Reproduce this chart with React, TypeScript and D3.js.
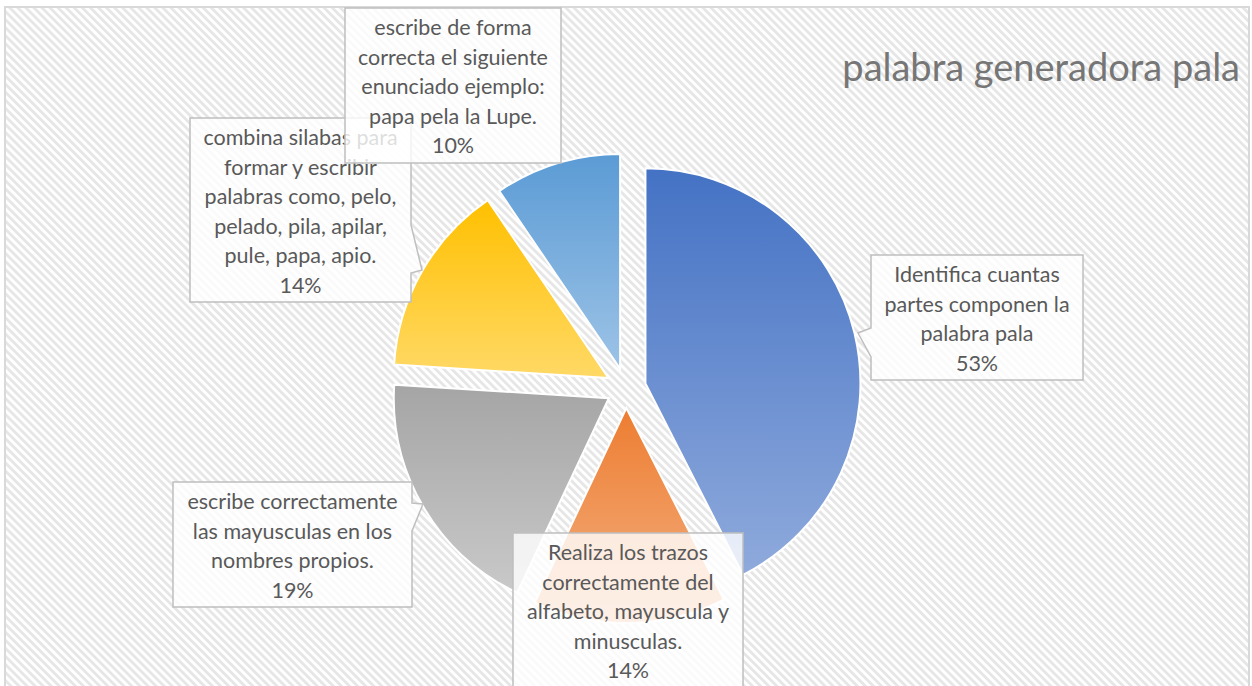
import React from "react";
import * as d3 from "d3";

// pie values; the printed percentages are kept as-is
const categories = [
  "Identifica cuantas partes componen la palabra pala",
  "Realiza los trazos correctamente del alfabeto, mayuscula y minusculas.",
  "escribe correctamente las mayusculas en los nombres propios.",
  "combina silabas para formar y escribir palabras como, pelo, pelado, pila, apilar, pule, papa, apio.",
  "escribe de forma correcta el siguiente enunciado ejemplo: papa pela la Lupe.",
];
const categoryLines = [
  ["Identifica cuantas", "partes componen la", "palabra pala"],
  ["Realiza los trazos", "correctamente del", "alfabeto, mayuscula y", "minusculas."],
  ["escribe correctamente", "las mayusculas en los", "nombres propios."],
  ["combina silabas para", "formar y escribir", "palabras como, pelo,", "pelado, pila, apilar,", "pule, papa, apio."],
  ["escribe de forma", "correcta el siguiente", "enunciado ejemplo:", "papa pela la Lupe."],
];
const values = [42.5, 14.5, 19, 14.5, 9.5];
const percentLabels = ["53%", "14%", "19%", "14%", "10%"];
const topColors = ["#4472C4", "#ED7D31", "#A5A5A5", "#FFC000", "#5B9BD5"];
const bottomColors = ["#8FAADC", "#F4B183", "#C9C9C9", "#FFD966", "#9DC3E6"];
const title = "palabra generadora pala";

// callout boxes were dragged by hand in the original, so they sit where they sit
const callouts = [
  { x: 871, y: 255, w: 212, h: 125, side: "left", n1: 328, n2: 357, tip: [858, 333] },
  { x: 513, y: 533, w: 230, h: 170, side: null },
  { x: 173, y: 482, w: 239, h: 125, side: "right", n1: 503, n2: 531, tip: [423, 504] },
  { x: 190, y: 118, w: 221, h: 184, side: "right", n1: 225, n2: 273, tip: [422, 270] },
  { x: 345, y: 8, w: 216, h: 155, side: null },
];

const W = 1252, H = 686;
const cx = 626, cy = 388, R = 215, explode = 20;

function calloutPath(c: any) {
  const { x, y, w, h } = c;
  const p = d3.path();
  p.moveTo(x, y);
  p.lineTo(x + w, y);
  if (c.side === "right") {
    p.lineTo(x + w, c.n1);
    p.lineTo(c.tip[0], c.tip[1]);
    p.lineTo(x + w, c.n2);
  }
  p.lineTo(x + w, y + h);
  p.lineTo(x, y + h);
  if (c.side === "left") {
    p.lineTo(x, c.n2);
    p.lineTo(c.tip[0], c.tip[1]);
    p.lineTo(x, c.n1);
  }
  p.closePath();
  return p.toString();
}

export default function App() {
  const pie = d3.pie<number>().sort(null).value((d) => d);
  const arcs = pie(values);
  const arc = d3.arc<d3.PieArcDatum<number>>().innerRadius(0).outerRadius(R);
  const font = "Lato, 'Open Sans', sans-serif";

  // draw order: slices, then labels with the 10% box on top of the 14% one
  const labelOrder = [0, 2, 1, 3, 4];

  return (
    <div>
      <style>{`body{margin:0}`}</style>
      <svg width={W} height={H} style={{ display: "block" }}>
        <defs>
          <pattern id="hatch" width={5.7} height={5.7} patternUnits="userSpaceOnUse" patternTransform="rotate(-45)">
            <rect width={5.7} height={5.7} fill="#ffffff" />
            <rect width={2.8} height={5.7} fill="#e6e6e6" />
          </pattern>
          {values.map((_, i) => (
            <linearGradient key={i} id={"g" + i} x1="0" y1="0" x2="0" y2="1">
              <stop offset="0" stopColor={topColors[i]} />
              <stop offset="1" stopColor={bottomColors[i]} />
            </linearGradient>
          ))}
        </defs>

        <rect x={5} y={7} width={1244} height={720} fill="url(#hatch)" stroke="#d9d9d9" strokeWidth={2} />

        <text x={1240} y={81} textAnchor="end" fontFamily={font} fontSize={38} fill="#767676">
          {title}
        </text>

        <g>
          {arcs.map((a, i) => {
            const mid = (a.startAngle + a.endAngle) / 2;
            const dx = Math.sin(mid) * explode;
            const dy = -Math.cos(mid) * explode;
            return (
              <path
                key={categories[i]}
                d={arc(a) || ""}
                transform={`translate(${cx + dx},${cy + dy})`}
                fill={`url(#g${i})`}
                stroke="#ffffff"
                strokeWidth={2}
              />
            );
          })}
        </g>

        {labelOrder.map((i) => {
          const c = callouts[i];
          const lines = [...categoryLines[i], percentLabels[i]];
          return (
            <g key={"lab" + i}>
              <path d={calloutPath(c)} fill="#ffffff" fillOpacity={0.8} stroke="#bfbfbf" strokeWidth={1.5} />
              {lines.map((t, j) => (
                <text
                  key={j}
                  x={c.x + c.w / 2}
                  y={c.y + 27 + j * 29.6}
                  textAnchor="middle"
                  fontFamily={font}
                  fontSize={21.5}
                  fill="#595959"
                >
                  {t}
                </text>
              ))}
            </g>
          );
        })}
      </svg>
    </div>
  );
}
